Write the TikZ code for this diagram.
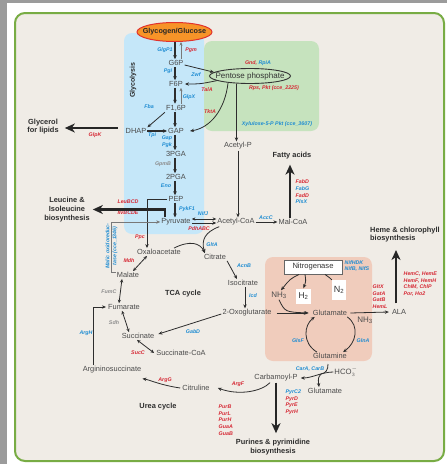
\documentclass[tikz,border=0pt]{standalone}
\usepackage{fontspec}
\setmainfont{Liberation Sans}
\usetikzlibrary{arrows.meta,calc,shapes.geometric}
\definecolor{outgray}{RGB}{155,155,155}
\definecolor{bgbeige}{RGB}{240,236,230}
\definecolor{bordergreen}{RGB}{120,172,68}
\definecolor{bluebg}{RGB}{197,231,249}
\definecolor{greenbg}{RGB}{198,227,190}
\definecolor{salmonbg}{RGB}{240,204,188}
\definecolor{enzblue}{RGB}{30,140,210}
\definecolor{enzred}{RGB}{214,40,52}
\definecolor{enzgray}{RGB}{140,140,140}
\definecolor{metgray}{RGB}{75,75,75}
\definecolor{lblgray}{RGB}{45,45,45}
\definecolor{arrgray}{RGB}{45,45,45}
\definecolor{lightarr}{RGB}{120,120,120}
\definecolor{glycorange}{RGB}{247,148,40}
\definecolor{glycred}{RGB}{225,50,45}
\begin{document}
\begin{tikzpicture}[x=1pt,y=-1pt,
  met/.style={font=\fontsize{7.4}{8.5}\selectfont, text=metgray, inner sep=1pt},
  bigmet/.style={font=\fontsize{8}{9}\selectfont, text=metgray, inner sep=1pt},
  lbl/.style={font=\fontsize{7.4}{8.7}\selectfont\bfseries, text=lblgray, align=center, inner sep=1pt},
  enz/.style={font=\fontsize{5.3}{6.6}\selectfont\bfseries\itshape, inner sep=0.5pt},
  eb/.style={enz, text=enzblue},
  er/.style={enz, text=enzred},
  eg/.style={enz, text=enzgray},
  arr/.style={draw=arrgray, line width=0.8pt, -{Stealth[length=4pt,width=3.4pt]}},
  garr/.style={draw=arrgray, line width=1.1pt, -{Stealth[length=4pt,width=3.6pt]}},
  uparr/.style={draw=lightarr, line width=0.7pt, -{Stealth[length=3.5pt,width=3pt]}},
  darr/.style={draw=arrgray, line width=0.8pt, {Stealth[length=3.6pt,width=3.2pt]}-{Stealth[length=3.6pt,width=3.2pt]}},
  conn/.style={draw=arrgray, line width=0.8pt},
  grayarr/.style={draw=lightarr, line width=0.8pt, -{Stealth[length=4pt,width=3.4pt]}},
  bigarr/.style={draw=black!85, line width=2.4pt, -{Stealth[length=10pt,width=9pt,inset=3pt]}}
]
\useasboundingbox (0,0) rectangle (447,464);
% backgrounds
\fill[outgray] (0,0) rectangle (447,464);
\fill[white] (7,3) rectangle (447,464);
\draw[bordergreen, line width=2pt, fill=bgbeige, rounded corners=10pt] (15,13) rectangle (444,461);
\fill[bluebg, rounded corners=8pt] (124,33) rectangle (204,234);
\fill[greenbg, rounded corners=8pt] (204,41) rectangle (319,131);
\fill[salmonbg, rounded corners=8pt] (265,257) rectangle (372,361);

% top ellipses
\node[ellipse, draw=glycred, fill=glycorange, line width=1pt, minimum width=75pt, minimum height=19pt, inner sep=0pt] (glyc) at (174.5,32) {};
\node[font=\fontsize{7.2}{8}\selectfont\bfseries, text=black!85, inner sep=0pt] (glyctext) at (glyc.center) {Glycogen/Glucose};
\node[ellipse, draw=black!80, line width=0.9pt, minimum width=81pt, minimum height=15pt, inner sep=0pt] (pp) at (250,76) {};
\node[font=\fontsize{8}{9}\selectfont, text=black!80, inner sep=0pt] (pptext) at (pp.center) {Pentose phosphate};
\node[lbl, rotate=90, font=\fontsize{7}{8}\selectfont\bfseries] (glycol) at (133,80) {Glycolysis};

% glycolysis metabolites
\node[met] (g6p) at (176,63) {G6P};
\node[met] (f6p) at (176,84) {F6P};
\node[met] (f16p) at (176,108) {F1,6P};
\node[met] (dhap) at (136,131) {DHAP};
\node[met] (gap) at (176,131) {GAP};
\node[met] (pga3) at (176,154) {3PGA};
\node[met] (pga2) at (176,177) {2PGA};
\node[met] (pep) at (176,199) {PEP};
\node[met] (pyr) at (176,222) {Pyruvate};
\node[met] (acp) at (238,146) {Acetyl-P};
\node[met] (acoa) at (236,222) {Acetyl-CoA};
\node[met] (malcoa) at (293,222) {Mal-CoA};

% TCA
\node[met] (oaa) at (159,252) {Oxaloacetate};
\node[met] (cit) at (215,257) {Citrate};
\node[met] (iso) at (243,283) {Isocitrate};
\node[met] (oxo) at (247,313) {2-Oxoglutarate};
\node[met] (malate) at (128,275) {Malate};
\node[met] (fum) at (124,307) {Fumarate};
\node[met] (succ) at (138,336) {Succinate};
\node[met] (succoa) at (181,353) {Succinate-CoA};

% nitrogen
\node[met] (glu) at (330,313) {Glutamate};
\node[met] (gln) at (330,356) {Glutamine};
\node[met] (ala) at (399,312) {ALA};
\node[bigmet] (nh3b) at (365,320) {NH\textsubscript{3}};
\node[bigmet] (nh3a) at (279,295) {NH\textsubscript{3}};
\node[draw=black!60, line width=0.9pt, fill=white, minimum width=58pt, minimum height=14pt, inner sep=0pt, font=\fontsize{7.6}{9}\selectfont, text=black!80] (nitro) at (313,267) {Nitrogenase};
\node[fill=white, minimum width=15pt, minimum height=15pt, inner sep=0pt, font=\fontsize{8.5}{9}\selectfont, text=black!80] (h2) at (303.5,296) {H\textsubscript{2}};
\node[fill=white, minimum width=14pt, minimum height=20pt, inner sep=0pt, font=\fontsize{9}{9}\selectfont, text=black!80] (n2) at (339,290) {N\textsubscript{2}};

% urea
\node[met] (argsuc) at (112,370) {Argininosuccinate};
\node[met] (citr) at (196,388) {Citruline};
\node[met] (carb) at (276,378) {Carbamoyl-P};
\node[met, font=\fontsize{7.7}{9}\selectfont] (hco3) at (346,372) {HCO\(_3^-\)};
\node[met] (glu2) at (325,391) {Glutamate};

% bold labels
\node[lbl] (glycerol) at (43,126.5) {Glycerol\\for lipids};
\node[lbl] (leu) at (67,209.5) {Leucine \&\\Isoleucine\\biosynthesis};
\node[lbl] (fatty) at (292,156) {Fatty acids};
\node[lbl, align=left, anchor=west] (heme) at (369,234.5) {Heme \& chlorophyll\\biosynthesis};
\node[lbl] (tca) at (183,294) {TCA cycle};
\node[lbl] (urea) at (158,407) {Urea cycle};
\node[lbl, font=\fontsize{7.4}{8.3}\selectfont\bfseries] (purines) at (273,447) {Purines \& pyrimidine\\biosynthesis};

% enzyme labels
\node[eb] (e-glgp) at (165,50) {GlgP1};
\node[er] (e-pgm) at (191,50) {Pgm};
\node[eb] (e-pgi) at (168,71) {Pgi};
\node[eb] (e-zwf) at (196,74.5) {Zwf};
\node[er] (e-tala) at (207,89.5) {TalA};
\node[eb] (e-glpx) at (189,97) {GlpX};
\node[eb] (e-fba) at (149,107) {Fba};
\node[er] (e-tkta) at (210,112) {TktA};
\node[eb] (e-tpi) at (152,135.5) {Tpi};
\node[er] (e-glpk) at (95,135) {GlpK};
\node[eb, align=center, font=\fontsize{5.3}{7}\selectfont\bfseries\itshape] (e-gap) at (167,141.5) {Gap\\Pgk};
\node[eg] (e-gpm) at (163,164) {GpmB};
\node[eb] (e-eno) at (166,186) {Eno};
\node[eb] (e-pyk) at (187,209) {PykF1};
\node[er] (e-leu) at (128,202) {LeuBCD};
\node[er] (e-ilv) at (128,212.5) {IlvBCDE};
\node[eb] (e-nifj) at (203,214) {NifJ};
\node[er] (e-pdh) at (199,229) {PdhABC};
\node[er] (e-ppc) at (140,237) {Ppc};
\node[er] (e-mdh) at (129,261) {Mdh};
\node[eb] (e-glta) at (212,245) {GltA};
\node[eb] (e-acnb) at (244,266) {AcnB};
\node[eb] (e-icd) at (253,296) {Icd};
\node[eb] (e-accc) at (266,218) {AccC};
\node[enz] (e-gnd) at (258,63) {\textcolor{enzred}{Gnd,} \textcolor{enzblue}{RpiA}};
\node[er] (e-rps) at (274,88) {Rps, Pkt (cce\_2225)};
\node[eb] (e-xpk) at (277,124) {Xylulose-5-P Pkt (cce\_3607)};
\node[enz, align=left, anchor=west] (e-fab) at (295,192) {\textcolor{enzred}{FabD}\\\textcolor{enzblue}{FabG}\\\textcolor{enzred}{FadD}\\\textcolor{enzblue}{PlsX}};
\node[eb, align=left, anchor=west, font=\fontsize{5.3}{6.2}\selectfont\bfseries\itshape] (e-nif) at (344,266) {NifHDK\\NifB, NifS};
\node[er, align=left, anchor=west] (e-gltx) at (372,296.5) {GltX\\GatA\\GatB\\HemL};
\node[er, align=left, anchor=west] (e-hem) at (403,284) {HemC, HemE\\HemF, HemH\\ChlM, ChlP\\Por, Ho2};
\node[eb] (e-glsf) at (298,341) {GlsF};
\node[eb] (e-glna) at (363,341) {GlnA};
\node[eb] (e-car) at (310,369) {CarA, CarB};
\node[er] (e-argf) at (238,384) {ArgF};
\node[er] (e-argg) at (165,380) {ArgG};
\node[eb] (e-argh) at (86,333) {ArgH};
\node[eg] (e-fumc) at (109,292) {FumC};
\node[eg] (e-sdh) at (114,323) {Sdh};
\node[er] (e-succ) at (138,353) {SucC};
\node[eb] (e-gabd) at (193,332) {GabD};
\node[enz, align=left, anchor=west] (e-pyr) at (285,402) {\textcolor{enzblue}{PyrC2}\\\textcolor{enzred}{PyrD}\\\textcolor{enzred}{PyrE}\\\textcolor{enzred}{PyrH}};
\node[er, align=left, anchor=west] (e-pur) at (218,420) {PurB\\PurL\\PurH\\GuaA\\GuaB};
\node[eb, rotate=90, align=center, font=\fontsize{5.3}{7}\selectfont\bfseries\itshape] (e-malic) at (111.5,246) {Malic oxidoreduc-\\tase (cce\_1346)};

% coordinates for free ends
\coordinate (mtop) at (111,222);
\coordinate (hemetip) at (396,250);
\coordinate (glnin) at (328,364);
\coordinate (junc) at (321,374);

% glycolysis connectors
\draw[garr] ([xshift=0.5pt]glyc.south) -- ([xshift=-1pt]g6p.north);
\draw[uparr] ([xshift=5pt]g6p.north) -- ([xshift=6.5pt]glyc.south);
\draw[garr] ([xshift=-1pt]g6p.south) -- ([xshift=-1pt]f6p.north);
\draw[garr] ([xshift=-1pt]f6p.south) -- ([xshift=-1pt]f16p.north);
\draw[uparr] ([xshift=5pt]f16p.north) -- ([xshift=5pt]f6p.south);
\draw[garr] ([xshift=-1pt]f16p.south) -- ([xshift=-1pt]gap.north);
\draw[arr] (f16p.south west) -- (dhap.north east);
\draw[garr] (dhap.east) -- (gap.west);
\draw[garr] ([xshift=-1pt]gap.south) -- ([xshift=-1pt]pga3.north);
\draw[garr] ([xshift=-1pt]pga3.south) -- ([xshift=-1pt]pga2.north);
\draw[garr] ([xshift=-1pt]pga2.south) -- ([xshift=-1pt]pep.north);
\draw[garr] ([xshift=-1pt]pep.south) -- ([xshift=-1pt]pyr.north);

% pentose phosphate
\draw[arr] ([yshift=-2pt]g6p.east) -- (pp.174);
\draw[arr] (pp.188) .. controls (200,84) .. ([xshift=1pt]f6p.east);
\draw[arr] (pp.197) .. controls (225,110) and (210,128) .. ([xshift=5pt]gap.east);
\draw[arr] (pp.209) -- (pp.209 |- acp.north);
\draw[arr] (acp.south) -- (acp.south |- acoa.north);

% glycerol, leucine, fatty acids
\draw[bigarr] ([xshift=-7pt,yshift=3pt]dhap.west) -- ([xshift=5pt,yshift=-1.5pt]glycerol.east);
\draw[bigarr] ([xshift=-11pt]pyr.north) |- ([xshift=2pt]leu.east);
\draw[arr] (acoa.east) -- (malcoa.west);
\draw[bigarr] ([xshift=-3pt]malcoa.north) -- ([xshift=-2pt,yshift=-4pt]fatty.south);

% pyruvate region
\draw[arr] (pep.west) -| ([xshift=-12pt]oaa.north);
\draw[darr, line width=0.9pt] ([yshift=3pt]pyr.east) -- ([yshift=3pt]acoa.west);
\draw[arr, line width=0.9pt] ([yshift=-1pt]pyr.east) -- ([yshift=-1pt]acoa.west);
\draw[grayarr] ([yshift=3pt]malate.west) -| (mtop) -- (pyr.west);

% TCA cycle
\draw[arr] ([xshift=-8pt]oaa.north east) .. controls (190,240) and (200,243) .. ([xshift=2pt]cit.north west);
\draw[arr] ([xshift=3pt]acoa.south west) .. controls (205,232) and (201,240) .. ([xshift=2pt]cit.north west);
\draw[arr] (cit.south east) -- ([xshift=-6pt]iso.north);
\draw[arr] ([xshift=2pt]iso.south) -- ([xshift=-2pt]oxo.north);
\draw[arr] ([yshift=-1pt]oxo.west) -- ([xshift=3pt,yshift=2pt]succ.east);
\draw[darr] ([xshift=-2pt]fum.south) -- ([xshift=-9pt]succ.north);
\draw[darr] ([xshift=-1pt]succ.south) -- ([xshift=-1pt]succoa.west);
\draw[darr] ([xshift=5pt]malate.north) -- ([xshift=-12pt]oaa.south);
\draw[darr] ([xshift=-6pt]malate.south) -- ([xshift=-5pt]fum.north);

% nitrogen assimilation
\draw[arr] ([xshift=4pt]oxo.east) -- ([xshift=-4pt]glu.west);
\draw[arr] ([xshift=2pt]glu.east) -- ([xshift=-2pt]ala.west);
\draw[arr] ([xshift=-1pt]glu.south east) .. controls (360,326) and (356,343) .. ([xshift=-5pt]gln.north east);
\draw[arr] ([xshift=5pt]gln.north west) .. controls (302,343) and (304,325) .. ([xshift=3pt]glu.south west);
\draw[arr] (nh3a.south) .. controls (285,312) .. ([xshift=-3pt]glu.west);
\draw[arr] ([xshift=-14pt]nitro.south) .. controls (290,279) .. ([xshift=2pt]nh3a.north);
\draw[arr] ([xshift=-8pt]nitro.south) .. controls (306,281) .. (h2.north);
\draw[conn] (n2.north west) .. controls (330,278) .. ([xshift=12pt]nitro.south);
\draw[bigarr] ([xshift=-3pt,yshift=5pt]ala.north) -- (hemetip);

% urea cycle and carbamoyl-P
\draw[arr] (hco3.west) .. controls (322,372) and (312,378) .. ([xshift=2pt]carb.east);
\draw[conn] (glnin) .. controls (328,370) and (326,373) .. (junc);
\draw[arr] (junc) .. controls (318,378) .. ([xshift=-6pt]glu2.north);
\draw[bigarr] (carb.south) -- ([xshift=3pt,yshift=5pt]purines.north);
\draw[arr] ([xshift=-6pt]carb.south) .. controls (262,391) and (240,396) .. ([xshift=7pt]citr.east);
\draw[arr] ([xshift=-1pt]citr.west) .. controls (160,385) and (150,380) .. ([yshift=-4pt]argsuc.south east);
\draw[arr] ([xshift=-19pt]argsuc.north) |- ([xshift=-1pt]fum.west);
\end{tikzpicture}
\end{document}
